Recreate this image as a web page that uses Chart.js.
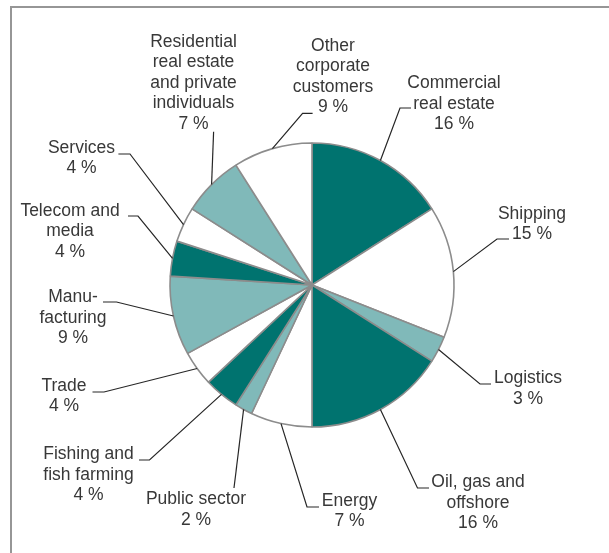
<!DOCTYPE html>
<html>
<head>
<meta charset="utf-8">
<script src="https://cdn.jsdelivr.net/npm/chart.js@4.4.1/dist/chart.umd.min.js"></script>
<style>
  html, body { margin: 0; padding: 0; background: #ffffff; }
  #wrap { position: relative; width: 609px; height: 553px; }
</style>
</head>
<body>
<div id="wrap"><canvas id="sector-chart" width="609" height="553"></canvas></div>
<script>
// Loan book by sector, share in percent (clockwise from 12 o'clock)
const sectors = [
  "Commercial\nreal estate",
  "Shipping",
  "Logistics",
  "Oil, gas and\noffshore",
  "Energy",
  "Public sector",
  "Fishing and\nfish farming",
  "Trade",
  "Manu-\nfacturing",
  "Telecom and\nmedia",
  "Services",
  "Residential\nreal estate\nand private\nindividuals",
  "Other\ncorporate\ncustomers"
]
const shares = [16, 15, 3, 16, 7, 2, 4, 4, 9, 4, 4, 7, 9]

// Fill colours cycle dark / white / light teal
const DARK = "#00736f"
const LIGHT = "#80b9b9"
const WHITE = "#ffffff"
const sliceColors = [DARK, WHITE, LIGHT, DARK, WHITE, LIGHT, DARK, WHITE, LIGHT, DARK, WHITE, LIGHT, WHITE]

// Label placement, relative to the pie centre:
// [text x, first line y, leader start x, leader start y, elbow stub (signed px)]
const labelLayout = [
  [142, -201.5, 99, -177, -11],
  [220, -71, 197, -46, -12],
  [216, 93.5, 179, 99, -11],
  [166, 197.5, 117, 203, -11.5],
  [37.5, 216, 7, 222, -12],
  [-116, 214.5, -78, 203, 0],
  [-223.5, 169.5, -173, 175, 10.5],
  [-248, 101, -219.5, 107, 11.5],
  [-239, 12.5, -209, 17, 13.5],
  [-242, -74.3, -184, -69, 10],
  [-230.5, -137, -193.6, -131, 11.6],
  [-118.5, -243.3, -98.4, -153.3, 0],
  [21, -239.3, 0.6, -171.7, -10]
]

const LINE_HEIGHT = 20.5

// Grey frame along the top and left edge
const framePlugin = {
  id: "frame",
  beforeDraw(chart) {
    const ctx = chart.ctx
    ctx.save()
    ctx.strokeStyle = "#969696"
    ctx.lineWidth = 2
    ctx.beginPath()
    ctx.moveTo(11, chart.height)
    ctx.lineTo(11, 7)
    ctx.lineTo(chart.width, 7)
    ctx.stroke()
    ctx.restore()
  }
}

// Category labels with percentage and leader lines to the slice edge
const sliceLabels = {
  id: "sliceLabels",
  afterDatasetsDraw(chart) {
    const ctx = chart.ctx
    const arcs = chart.getDatasetMeta(0).data
    ctx.save()
    ctx.font = "17.5px 'Liberation Sans', Arial, sans-serif"
    ctx.fillStyle = "#383838"
    ctx.textAlign = "center"
    ctx.textBaseline = "middle"
    ctx.strokeStyle = "#262626"
    ctx.lineWidth = 1.2

    arcs.forEach((arc, i) => {
      const { x, y, startAngle, endAngle, outerRadius } = arc.getProps(["x", "y", "startAngle", "endAngle", "outerRadius"], true)
      const mid = (startAngle + endAngle) / 2
      const edgeX = x + Math.cos(mid) * outerRadius
      const edgeY = y + Math.sin(mid) * outerRadius
      const [tx, ty, ax, ay, stub] = labelLayout[i]

      // leader: short horizontal stub next to the text, then straight to the arc
      ctx.beginPath()
      ctx.moveTo(x + ax, y + ay)
      ctx.lineTo(x + ax + stub, y + ay)
      ctx.lineTo(edgeX, edgeY)
      ctx.stroke()

      const lines = sectors[i].split("\n").concat(shares[i] + " %")
      lines.forEach((line, k) => {
        ctx.fillText(line, x + tx, y + ty + k * LINE_HEIGHT)
      })
    })
    ctx.restore()
  }
}

const ctx = document.getElementById("sector-chart").getContext("2d")
new Chart(ctx, {
  type: "pie",
  data: {
    labels: sectors,
    datasets: [
      {
        data: shares,
        backgroundColor: sliceColors,
        borderColor: "#8c8c8c",
        borderWidth: 1.6,
        radius: 142,
      },
    ],
  },
  options: {
    responsive: false,
    animation: false,
    layout: {
      padding: { left: 15, right: 0, top: 17, bottom: 0 },
    },
    plugins: {
      legend: { display: false },
      tooltip: { enabled: false },
    },
  },
  plugins: [framePlugin, sliceLabels],
})
</script>
</body>
</html>
